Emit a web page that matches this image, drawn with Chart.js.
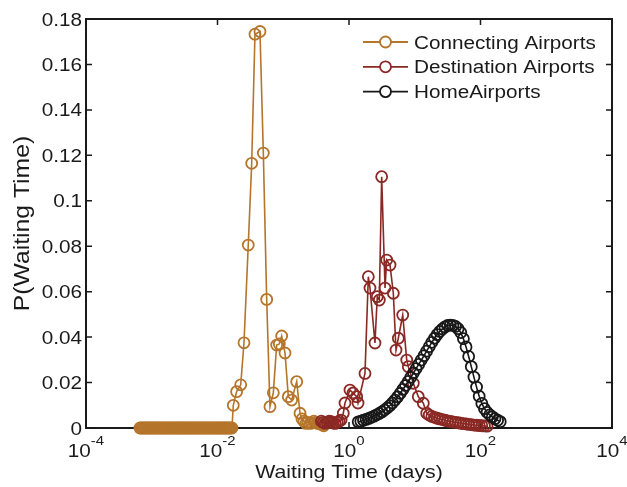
<!DOCTYPE html>
<html>
<head>
<meta charset="utf-8">
<script src="https://cdn.jsdelivr.net/npm/chart.js@4.4.1/dist/chart.umd.min.js"></script>
<style>
  html, body { margin: 0; padding: 0; background: #fff; }
  #wrap { width: 627px; height: 487px; position: relative; }
</style>
</head>
<body>
<div id="wrap"><canvas id="chart"></canvas></div>
<script>
/* ── DATA (x stored as log10 of days) ─────────────────────────────────── */
const seriesNames = ["Connecting Airports", "Destination Airports", "HomeAirports"];
const seriesColors = ["#b5752b", "#8a2824", "#181818"];

const connLogX = [
  -3.18, -3.16, -3.14, -3.12, -3.10, -3.08, -3.06, -3.04, -3.02, -3.00,
  -2.98, -2.96, -2.94, -2.92, -2.90, -2.88, -2.86, -2.84, -2.82, -2.80,
  -2.78, -2.76, -2.74, -2.72, -2.70, -2.68, -2.66, -2.64, -2.62, -2.60,
  -2.58, -2.56, -2.54, -2.52, -2.50, -2.48, -2.46, -2.44, -2.42, -2.40,
  -2.38, -2.36, -2.34, -2.32, -2.30, -2.28, -2.26, -2.24, -2.22, -2.20,
  -2.18, -2.16, -2.14, -2.12, -2.10, -2.08, -2.06, -2.04, -2.02, -2.00,
  -1.98, -1.96, -1.94, -1.92, -1.90, -1.88, -1.86, -1.84, -1.82, -1.80, -1.78,
  -1.76, -1.709, -1.647, -1.597, -1.532, -1.48, -1.43, -1.354, -1.303, -1.252,
  -1.202, -1.151, -1.1, -1.06, -1.024, -0.973, -0.923, -0.872, -0.795, -0.745,
  -0.715, -0.685, -0.655, -0.625, -0.595, -0.565, -0.535, -0.505, -0.475, -0.445,
  -0.415, -0.385,
];
const connY = [
  0, 0, 0, 0, 0, 0, 0, 0, 0, 0,
  0, 0, 0, 0, 0, 0, 0, 0, 0, 0,
  0, 0, 0, 0, 0, 0, 0, 0, 0, 0,
  0, 0, 0, 0, 0, 0, 0, 0, 0, 0,
  0, 0, 0, 0, 0, 0, 0, 0, 0, 0,
  0, 0, 0, 0, 0, 0, 0, 0, 0, 0,
  0, 0, 0, 0, 0, 0, 0, 0, 0, 0, 0,
  0.010, 0.016, 0.019, 0.0375, 0.0805, 0.1165, 0.1733, 0.1745, 0.121, 0.0566,
  0.0094, 0.0155, 0.0365, 0.037, 0.0405, 0.033, 0.0138, 0.0123, 0.0204, 0.0065,
  0.004, 0.003, 0.002, 0.0025, 0.002, 0.0022, 0.003, 0.0025, 0.002, 0.0018,
  0.0015, 0.001,
];

const destLogX = [
  -0.42, -0.39, -0.36, -0.33, -0.30, -0.27, -0.24, -0.21, -0.18, -0.15,
  -0.12, -0.087, -0.061, 0.015, 0.061, 0.117, 0.137, 0.243, 0.294, 0.319,
  0.395, 0.43, 0.461, 0.497, 0.548, 0.573, 0.624, 0.674, 0.715, 0.75,
  0.817, 0.878, 0.902, 0.978, 1.054, 1.13, 1.182, 1.22, 1.26, 1.30,
  1.34, 1.38, 1.42, 1.46, 1.50, 1.54, 1.58, 1.62, 1.66, 1.70,
  1.74, 1.78, 1.82, 1.86, 1.90, 1.94, 1.98, 2.02, 2.06, 2.10,
];
const destY = [
  0.003, 0.0025, 0.002, 0.0025, 0.003, 0.0028, 0.0022, 0.002, 0.0025, 0.003,
  0.0035, 0.0065, 0.011, 0.0167, 0.0154, 0.0138, 0.011, 0.024, 0.0666, 0.0616,
  0.0374, 0.0578, 0.0563, 0.1106, 0.0616, 0.0739, 0.0717, 0.0593, 0.0343, 0.0395,
  0.0497, 0.0299, 0.027, 0.0197, 0.0138, 0.0109, 0.0065, 0.0057, 0.0051, 0.0047,
  0.0043, 0.004, 0.0037, 0.0034, 0.0031, 0.0029, 0.0027, 0.0025, 0.0023, 0.0021,
  0.0019, 0.0018, 0.0016, 0.0015, 0.0013, 0.0012, 0.0011, 0.001, 0.0009, 0.0008,
];

const homeLogX = [
  0.14, 0.18, 0.22, 0.26, 0.30, 0.34, 0.38, 0.42, 0.46, 0.50,
  0.54, 0.58, 0.62, 0.66, 0.70, 0.74, 0.78, 0.82, 0.86, 0.90,
  0.94, 0.98, 1.02, 1.06, 1.10, 1.14, 1.18, 1.22, 1.26, 1.30,
  1.34, 1.38, 1.42, 1.46, 1.50, 1.54, 1.58, 1.62, 1.66, 1.70,
  1.74, 1.78, 1.82, 1.86, 1.90, 1.94, 1.98, 2.02, 2.06, 2.10,
  2.14, 2.18, 2.22, 2.26, 2.30,
];
const homeY = [
  0.0027, 0.0030, 0.0034, 0.0038, 0.0042, 0.0047, 0.0052, 0.0058, 0.0064, 0.0071,
  0.0079, 0.0088, 0.0098, 0.0110, 0.0123, 0.0137, 0.0153, 0.0170, 0.0187, 0.0205,
  0.0223, 0.0242, 0.0261, 0.0280, 0.0299, 0.0318, 0.0338, 0.0358, 0.0377, 0.0395,
  0.0411, 0.0425, 0.0436, 0.0445, 0.0451, 0.0453, 0.0452, 0.0447, 0.0437, 0.0420,
  0.0393, 0.0357, 0.0315, 0.0270, 0.0224, 0.0180, 0.0140, 0.0108, 0.0085, 0.0069,
  0.0058, 0.0049, 0.0041, 0.0034, 0.0028,
];

const yTicks = [0, 0.02, 0.04, 0.06, 0.08, 0.1, 0.12, 0.14, 0.16, 0.18];
const yTickLabels = ["0", "0.02", "0.04", "0.06", "0.08", "0.1", "0.12", "0.14", "0.16", "0.18"];
const xTickExp = [-4, -2, 0, 2, 4];

/* ── HELPERS ───────────────────────────────────────────────────────────── */
const FONT = '"Liberation Sans", Arial, Helvetica, sans-serif';
const SX = 1.15; // horizontal stretch to match the reference glyphs
const INK = "#1a1a1a";

function toPoints(logX, ys) {
  return logX.map((v, i) => ({ x: Math.pow(10, v), y: ys[i] }));
}

function stretchText(ctx, s, x, y, size, align) {
  ctx.save();
  ctx.font = `${size}px ${FONT}`;
  ctx.fillStyle = INK;
  ctx.translate(x, y);
  ctx.scale(SX, 1);
  ctx.textAlign = align || "left";
  ctx.textBaseline = "alphabetic";
  ctx.fillText(s, 0, 0);
  ctx.restore();
}

function textWidth(ctx, s, size) {
  ctx.save();
  ctx.font = `${size}px ${FONT}`;
  const w = ctx.measureText(s).width * SX;
  ctx.restore();
  return w;
}

/* ── FRAME / LABELS / LEGEND PLUGIN ───────────────────────────────────── */
const matlabFrame = {
  id: "matlabFrame",
  beforeDatasetsDraw(chart) {
    const { ctx, chartArea: a, scales } = chart;
    ctx.save();
    ctx.strokeStyle = INK;
    ctx.lineWidth = 2;
    ctx.strokeRect(a.left, a.top, a.right - a.left, a.bottom - a.top);
    ctx.lineWidth = 1.5;
    ctx.beginPath();
    yTicks.forEach((t) => {
      const y = scales.y.getPixelForValue(t);
      ctx.moveTo(a.left, y); ctx.lineTo(a.left + 6, y);
      ctx.moveTo(a.right, y); ctx.lineTo(a.right - 6, y);
    });
    xTickExp.forEach((e) => {
      const x = scales.x.getPixelForValue(Math.pow(10, e));
      ctx.moveTo(x, a.bottom); ctx.lineTo(x, a.bottom - 6);
      ctx.moveTo(x, a.top); ctx.lineTo(x, a.top + 6);
    });
    ctx.stroke();
    ctx.restore();
  },
  afterDraw(chart) {
    const { ctx, chartArea: a, scales } = chart;

    // y tick labels
    yTicks.forEach((t, i) => {
      const y = scales.y.getPixelForValue(t);
      stretchText(ctx, yTickLabels[i], a.left - 4, y + 6.5, 18, "right");
    });

    // x tick labels: 10 with superscript exponent
    xTickExp.forEach((e) => {
      const x = scales.x.getPixelForValue(Math.pow(10, e));
      const exp = String(e);
      const w1 = textWidth(ctx, "10", 18);
      const w2 = textWidth(ctx, exp, 13);
      const left = x - (w1 + w2) / 2;
      stretchText(ctx, "10", left, 457, 18, "left");
      stretchText(ctx, exp, left + w1, 445, 13, "left");
    });

    // axis titles
    stretchText(ctx, "Waiting Time (days)", (a.left + a.right) / 2, 478, 18.5, "center");
    ctx.save();
    ctx.translate(29, (a.top + a.bottom) / 2);
    ctx.rotate(-Math.PI / 2);
    stretchText(ctx, "P(Waiting Time)", 0, 0, 21.5, "center");
    ctx.restore();

    // legend
    seriesNames.forEach((name, i) => {
      const y = 42 + 24.8 * i;
      ctx.save();
      ctx.strokeStyle = seriesColors[i];
      ctx.lineWidth = 1.8;
      ctx.beginPath();
      ctx.moveTo(363, y); ctx.lineTo(408, y);
      ctx.stroke();
      ctx.fillStyle = "#fff";
      ctx.beginPath();
      ctx.arc(385.5, y, 5.5, 0, Math.PI * 2);
      ctx.fill();
      ctx.stroke();
      ctx.restore();
      stretchText(ctx, name, 414, y + 6.5, 18, "left");
    });
  },
};

/* ── CHART ─────────────────────────────────────────────────────────────── */
function series(label, color, logX, ys, order) {
  return {
    label,
    data: toPoints(logX, ys),
    borderColor: color,
    backgroundColor: "transparent",
    pointBorderColor: color,
    pointBackgroundColor: "transparent",
    pointRadius: 5.5,
    pointBorderWidth: 1.8,
    borderWidth: 1.6,
    tension: 0,
    clip: false,
    order,
  };
}

new Chart(document.getElementById("chart"), {
  type: "line",
  data: {
    datasets: [
      series(seriesNames[0], seriesColors[0], connLogX, connY, 3),
      series(seriesNames[1], seriesColors[1], destLogX, destY, 2),
      series(seriesNames[2], seriesColors[2], homeLogX, homeY, 1),
    ],
  },
  options: {
    responsive: true,
    maintainAspectRatio: false,
    animation: false,
    events: [],
    layout: { padding: { left: 86, top: 19, right: 15, bottom: 59 } },
    plugins: { legend: { display: false }, tooltip: { enabled: false } },
    scales: {
      x: { type: "logarithmic", min: 1e-4, max: 1e4, display: false },
      y: { type: "linear", min: 0, max: 0.18, display: false },
    },
  },
  plugins: [matlabFrame],
});
</script>
</body>
</html>
